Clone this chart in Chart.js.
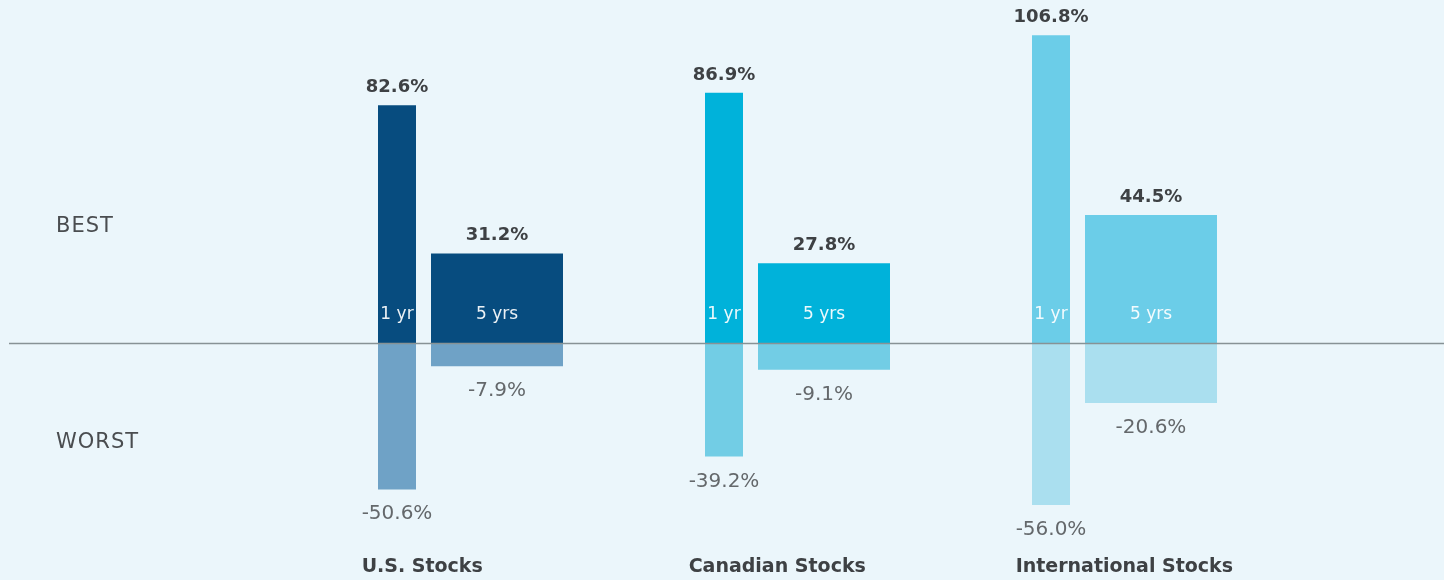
<!DOCTYPE html>
<html>
<head>
<meta charset="utf-8">
<script src="https://cdn.jsdelivr.net/npm/chart.js@4"></script>
<style>
  html, body { margin: 0; padding: 0; background: #EBF6FB; }
  canvas { display: block; }
</style>
</head>
<body>
<canvas id="c" width="1444" height="580"></canvas>
<script>
// ---- data ----
const categories = ['U.S. Stocks', 'Canadian Stocks', 'International Stocks'];
const periodLabels = ['1 yr', '5 yrs'];
const best1yr = [82.6, 86.9, 106.8];
const best5yr = [31.2, 27.8, 44.5];
const worst1yr = [-50.6, -39.2, -56.0];
const worst5yr = [-7.9, -9.1, -20.6];
const sideLabels = ['BEST', 'WORST'];

// ---- styles ----
const bestColors = ['#074C7F', '#00B2DA', '#6BCDE8'];
const worstColors = ['#6FA2C6', '#72CDE5', '#AADFEF'];
const FONT = "'DejaVu Sans', sans-serif";

const fmt = v => v.toFixed(1) + '%';

const labelsPlugin = {
  id: 'labels',
  afterDatasetsDraw(chart) {
    const ctx = chart.ctx;
    const y = chart.scales.y;
    const zeroY = y.getPixelForValue(0);
    ctx.save();
    // zero line
    ctx.strokeStyle = '#879295';
    ctx.lineWidth = 1.6;
    ctx.beginPath();
    ctx.moveTo(9, zeroY);
    ctx.lineTo(chart.width, zeroY);
    ctx.stroke();

    ctx.textAlign = 'center';
    ctx.textBaseline = 'alphabetic';
    chart.data.datasets.forEach((ds, di) => {
      const meta = chart.getDatasetMeta(di);
      meta.data.forEach((bar, i) => {
        const v = ds.data[i];
        if (v >= 0) {
          ctx.font = 'bold 18px ' + FONT;
          ctx.fillStyle = '#3E4144';
          ctx.fillText(fmt(v), bar.x, bar.y - 13);
          ctx.font = '17px ' + FONT;
          ctx.fillStyle = 'rgba(255,255,255,0.92)';
          ctx.fillText(ds.period, bar.x, zeroY - 24);
        } else {
          ctx.font = '20px ' + FONT;
          ctx.fillStyle = '#64686B';
          ctx.fillText(fmt(v), bar.x, bar.y + 30);
        }
      });
    });

    // category labels, left-aligned to the 1-yr worst label
    const worstMeta = chart.getDatasetMeta(2);
    ctx.textAlign = 'left';
    chart.data.labels.forEach((lab, i) => {
      const bar = worstMeta.data[i];
      ctx.font = '20px ' + FONT;
      const w = ctx.measureText(fmt(worst1yr[i])).width;
      ctx.font = 'bold 19px ' + FONT;
      ctx.fillStyle = '#3E4144';
      ctx.fillText(lab, bar.x - w / 2, 572);
    });

    // side labels
    ctx.font = '21px ' + FONT;
    if ('letterSpacing' in ctx) ctx.letterSpacing = '1px';
    ctx.fillStyle = '#4A4D50';
    ctx.fillText(sideLabels[0], 56, 232);
    ctx.fillText(sideLabels[1], 56, 448);
    ctx.restore();
  }
};

new Chart(document.getElementById('c'), {
  type: 'bar',
  data: {
    labels: categories,
    datasets: [
      { label: 'best 1 yr', period: periodLabels[0], data: best1yr, stack: 'a', backgroundColor: bestColors, barPercentage: 0.38, categoryPercentage: 0.6116 },
      { label: 'best 5 yrs', period: periodLabels[1], data: best5yr, stack: 'b', backgroundColor: bestColors, barPercentage: 1.32, categoryPercentage: 0.6116 },
      { label: 'worst 1 yr', period: periodLabels[0], data: worst1yr, stack: 'a', backgroundColor: worstColors, barPercentage: 0.38, categoryPercentage: 0.6116 },
      { label: 'worst 5 yrs', period: periodLabels[1], data: worst5yr, stack: 'b', backgroundColor: worstColors, barPercentage: 1.32, categoryPercentage: 0.6116 }
    ]
  },
  options: {
    responsive: false,
    animation: false,
    layout: { padding: { left: 283.5, right: 179.5, top: 0, bottom: 0 } },
    plugins: { legend: { display: false }, tooltip: { enabled: false } },
    scales: {
      x: { stacked: true, display: false, grid: { display: false } },
      y: { stacked: true, display: false, min: -81.98, max: 119.06, grid: { display: false } }
    }
  },
  plugins: [labelsPlugin]
});
</script>
</body>
</html>
